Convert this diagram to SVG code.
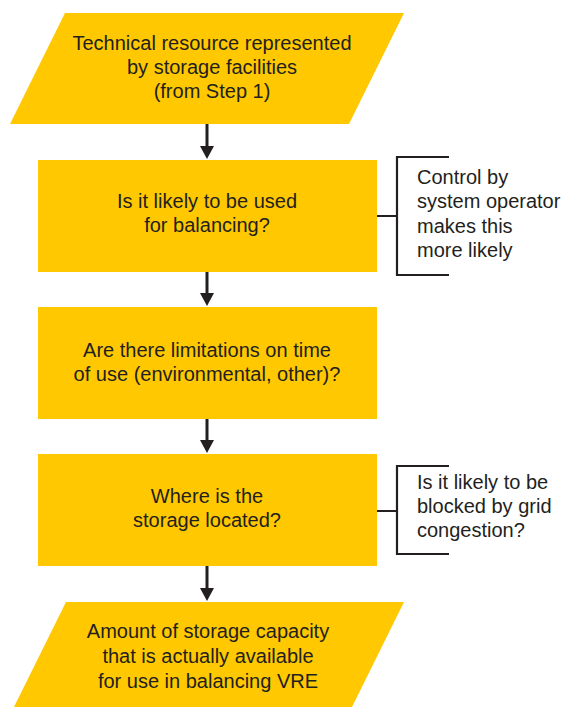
<svg xmlns="http://www.w3.org/2000/svg" width="562" height="707" viewBox="0 0 562 707">
<defs>
<style>
.shape{fill:#FFC800;stroke:none}
.t{font-family:"Liberation Sans",Arial,sans-serif;font-size:20px;fill:#231F20}
.c{text-anchor:middle}
.ln{stroke:#231F20;stroke-width:3;fill:none}
.br{stroke:#231F20;stroke-width:2.2;fill:none}
</style>
<marker id="ah" viewBox="0 0 14 13" refX="7" refY="13" markerWidth="14" markerHeight="13" markerUnits="userSpaceOnUse" orient="auto-start-reverse">
<path d="M0,0 L14,0 L7,13 Z" fill="#231F20"/>
</marker>
</defs>
<rect width="562" height="707" fill="#fff"/>
<g id="connectors">
<line class="ln" x1="207" y1="124" x2="207" y2="147"/>
<path d="M200,146 L214,146 L207,159 Z" fill="#231F20"/>
<line class="ln" x1="207" y1="272" x2="207" y2="294"/>
<path d="M200,293 L214,293 L207,306 Z" fill="#231F20"/>
<line class="ln" x1="207" y1="419" x2="207" y2="441"/>
<path d="M200,440 L214,440 L207,453 Z" fill="#231F20"/>
<line class="ln" x1="207" y1="566" x2="207" y2="589"/>
<path d="M200,588 L214,588 L207,601 Z" fill="#231F20"/>
<path class="br" d="M377,216 L397,216 M449,157 L397,157 L397,275 L449,275"/>
<path class="br" d="M377,511 L397,511 M449,466 L397,466 L397,554 L449,554"/>
</g>
<g id="start">
<polygon class="shape" points="65,13 404,13 349,124 10,124"/>
<text class="t c" x="212" y="50">Technical resource represented</text>
<text class="t c" x="212" y="74">by storage facilities</text>
<text class="t c" x="212" y="98">(from Step 1)</text>
</g>
<g id="q1">
<rect class="shape" x="38" y="160" width="339" height="112"/>
<text class="t c" x="207" y="208">Is it likely to be used</text>
<text class="t c" x="207" y="232">for balancing?</text>
</g>
<g id="note1">
<text class="t" x="417" y="184">Control by</text>
<text class="t" x="417" y="208">system operator</text>
<text class="t" x="417" y="233">makes this</text>
<text class="t" x="417" y="257">more likely</text>
</g>
<g id="q2">
<rect class="shape" x="38" y="307" width="339" height="112"/>
<text class="t c" x="207" y="357">Are there limitations on time</text>
<text class="t c" x="207" y="381">of use (environmental, other)?</text>
</g>
<g id="q3">
<rect class="shape" x="38" y="454" width="339" height="112"/>
<text class="t c" x="207" y="503">Where is the</text>
<text class="t c" x="207" y="527">storage located?</text>
</g>
<g id="note2">
<text class="t" x="417" y="489">Is it likely to be</text>
<text class="t" x="417" y="513">blocked by grid</text>
<text class="t" x="417" y="537">congestion?</text>
</g>
<g id="end">
<polygon class="shape" points="66,602 404,602 349,713 11,713"/>
<text class="t c" x="208" y="638">Amount of storage capacity</text>
<text class="t c" x="208" y="663">that is actually available</text>
<text class="t c" x="208" y="688">for use in balancing VRE</text>
</g>
</svg>
